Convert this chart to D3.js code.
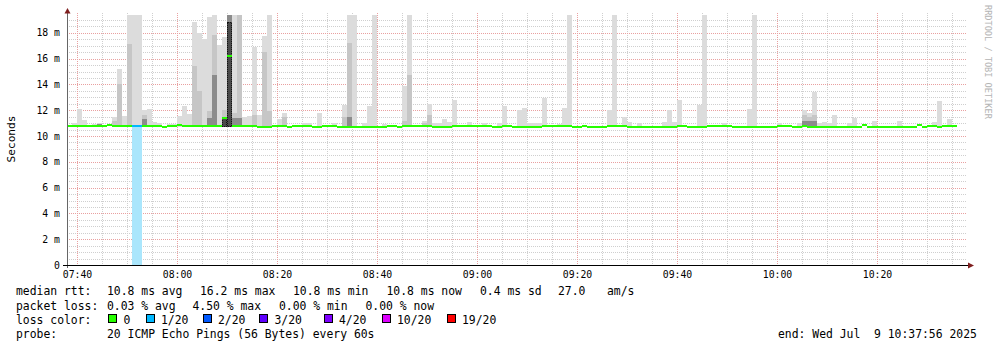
<!DOCTYPE html>
<html>
<head>
<meta charset="utf-8">
<script src="https://cdn.jsdelivr.net/npm/d3@7"></script>
<style>
  body { margin: 0; background: #fff; }
  text { font-family: "DejaVu Sans Mono", monospace; }
</style>
</head>
<body>
<div id="chart"></div>
<script>
// one bar per minute, first bar starts 07:38
var median = [
  10.8,10.8,10.8,10.8,10.8,10.8,10.8,10.8,10.88,10.8,
  10.8,10.8,10.8,10.8,10.8,10.8,10.8,10.8,10.8,10.72,
  10.8,10.8,10.88,10.8,10.8,10.8,10.8,10.8,10.8,10.8,
  10.8,11.4,16.2,10.8,10.8,10.8,10.8,10.8,10.72,10.72,
  10.72,10.8,10.8,10.8,10.72,10.8,10.8,10.8,10.8,10.72,
  10.72,10.8,10.8,10.8,10.72,10.72,10.72,10.72,10.72,10.72,
  10.72,10.72,10.72,10.72,10.8,10.8,10.72,10.8,10.8,10.8,
  10.8,10.8,10.8,10.72,10.72,10.72,10.72,10.8,10.8,10.8,
  10.8,10.8,10.8,10.8,10.8,10.72,10.72,10.8,10.8,10.72,
  10.72,10.72,10.72,10.72,10.72,10.8,10.8,10.8,10.8,10.8,
  10.8,10.72,10.72,10.8,10.72,10.72,10.72,10.72,10.8,10.8,
  10.8,10.8,10.72,10.72,10.72,10.72,10.72,10.72,10.72,10.72,
  10.72,10.72,10.8,10.8,10.72,10.72,10.72,10.72,10.8,10.8,
  10.8,10.8,10.8,10.72,10.72,10.72,10.72,10.72,10.72,10.72,
  10.72,10.72,10.8,10.8,10.8,10.72,10.72,10.8,10.72,10.72,
  10.72,10.72,10.72,10.72,10.72,10.72,10.72,10.72,10.72,10.85,
  10.72,10.72,10.72,10.72,10.72,10.72,10.72,10.72,10.72,10.72,
  10.85,10.72,10.8,10.8,10.72,10.8,10.8,10.8
];

// lost pings (of 20) per minute, [minute, lost]
var loss = [[13, 1], [14, 1]];

// smoke: lowest ping and the tops of the smoke bands, [minute, ms]
var smokeLow = 10.7;
var smokeHi = [
  [1,11.0],[2,12.1],[3,11.25],[5,10.95],[6,11.0],[9,11.45],[10,15.2],[11,11.55],[12,20],[13,20],
  [14,20],[15,12.0],[16,12.1],[17,11.1],[18,11.0],[20,10.95],[21,10.95],[22,11.55],[23,12.35],[24,11.7],
  [25,18.8],[26,18.0],[27,17.55],[28,19.25],[29,20],[30,17.05],[31,17.7],[32,20],[33,20],[34,20],
  [35,11.45],[36,11.55],[37,16.9],[38,11.6],[39,17.75],[40,20],[42,11.3],[43,11.75],
  [47,11.0],[48,11.0],[50,11.75],[53,11.0],[55,12.4],[56,20],[57,20],[59,11.0],[60,12.35],[61,20],
  [63,10.95],[67,13.85],[68,20],[71,11.2],[72,12.5],[73,11.0],[74,11.0],[75,11.3],[76,11.1],[77,12.8],
  [80,11.1],[83,11.0],[86,11.0],[87,12.35],
  [90,12.0],[91,12.15],[92,10.98],[93,10.98],[94,11.0],[95,12.95],[98,10.95],[99,12.2],[100,20],
  [108,12.0],[109,20],[111,11.45],[112,11.1],[114,11.0],[119,11.1],[120,12.0],[121,11.1],[122,12.8],
  [126,12.4],[127,20],[131,10.98],
  [136,12.1],[137,20],[142,10.98],[146,11.0],[147,12.0],[148,11.75],[149,13.4],[150,11.0],[151,11.1],
  [152,11.0],[153,11.65],[156,10.98],[157,11.4],[161,11.15],[166,11.15],[173,11.1],[174,12.75],[176,11.3]
];
var smokeMid = [
  [9,11.2],[10,14.0],[12,17.1],[15,11.6],[25,15.4],[26,13.5],[28,11.9],[29,17.8],[31,12.0],[32,20],
  [33,11.8],[34,20],[37,11.6],[39,16.5],[40,11.9],[43,11.45],[55,11.5],[56,17.2],[67,11.2],[68,14.7],
  [71,11.0],[72,11.6],[147,11.6],[148,11.5],[149,11.6]
];
var smokeDark = [
  [6,10.95],[15,11.3],[28,11.4],[29,14.7],[31,11.45],[32,19.6],[33,11.4],[34,11.4],[56,11.5],
  [147,11.2],[148,11.2],[149,11.2]
];
var smokeCore = [[31,11.45],[32,18.8]];

var yTicks = [0, 2, 4, 6, 8, 10, 12, 14, 16, 18];
var lossLegend = [
  ["0", "#26ff00"], ["1/20", "#00b8ff"], ["2/20", "#0059ff"], ["3/20", "#5e00ff"],
  ["4/20", "#7e00ff"], ["10/20", "#dd00ff"], ["19/20", "#ff0000"]
];
var lossColor = {0: "#26ff00", 1: "#00b8ff"};

var start = new Date(2025, 6, 9, 7, 38);
var end = new Date(2025, 6, 9, 10, 38);

var svg = d3.select("#chart").append("svg")
    .attr("width", 997)
    .attr("height", 347)
    .style("display", "block");

svg.append("rect").attr("width", 997).attr("height", 347).attr("fill", "#fff");

var x = d3.scaleTime().domain([start, end]).range([67, 967]);
var y = d3.scaleLinear().domain([0, 19.38]).range([265, 15]);

function t(i) { return d3.timeMinute.offset(start, i); }
function py(v) { return Math.round(y(v)) + 0.5; }

// grid
var grid = svg.append("g").attr("shape-rendering", "crispEdges");
var minorY = d3.range(0.5, 19.4, 0.5).filter(function(v){ return v % 2 !== 0; });
grid.selectAll("line.hmin").data(minorY).enter().append("line")
    .attr("x1", 67).attr("x2", 967)
    .attr("y1", py).attr("y2", py)
    .attr("stroke", "#cfcfcf").attr("stroke-dasharray", "1,1");
var minorX = x.ticks(d3.timeMinute.every(5)).filter(function(d){ return d.getMinutes() % 20 !== 0; });
grid.selectAll("line.vmin").data(minorX).enter().append("line")
    .attr("x1", function(d){ return Math.round(x(d)) + 0.5; })
    .attr("x2", function(d){ return Math.round(x(d)) + 0.5; })
    .attr("y1", 13).attr("y2", 265)
    .attr("stroke", "#cfcfcf").attr("stroke-dasharray", "1,1");
grid.selectAll("line.hmaj").data(yTicks.slice(1)).enter().append("line")
    .attr("x1", 67).attr("x2", 967)
    .attr("y1", py).attr("y2", py)
    .attr("stroke", "#e9a0a0").attr("stroke-dasharray", "1,1");
grid.selectAll("line.vmaj").data(x.ticks(d3.timeMinute.every(20))).enter().append("line")
    .attr("x1", function(d){ return Math.round(x(d)) + 0.5; })
    .attr("x2", function(d){ return Math.round(x(d)) + 0.5; })
    .attr("y1", 13).attr("y2", 265)
    .attr("stroke", "#e9a0a0").attr("stroke-dasharray", "1,1");

// smoke
var plot = svg.append("g").attr("shape-rendering", "crispEdges");
function smoke(list, color) {
  plot.append("g").selectAll("rect").data(list).enter().append("rect")
      .attr("x", function(d){ return x(t(d[0])); })
      .attr("width", function(d){ return x(t(d[0] + 1)) - x(t(d[0])); })
      .attr("y", function(d){ return Math.max(15, y(d[1])); })
      .attr("height", function(d){ return y(smokeLow) - Math.max(15, y(d[1])); })
      .attr("fill", color);
}
smoke(smokeHi, "#dcdcdc");
smoke(smokeMid, "#c6c6c6");
smoke(smokeDark, "#8c8c8c");
smoke(smokeCore, "#4a4a4a");
plot.append("g").selectAll("rect").data(smokeCore).enter().append("rect")
    .attr("x", function(d){ return x(t(d[0])) + 0.5; })
    .attr("width", function(d){ return x(t(d[0] + 1)) - x(t(d[0])) - 1; })
    .attr("y", function(d){ return y(d[1]) + 0.5; })
    .attr("height", function(d){ return y(smokeLow) - y(d[1]) - 1; })
    .attr("fill", "none").attr("stroke", "#111").attr("stroke-dasharray", "1,1");

// loss columns
plot.append("g").selectAll("rect").data(loss).enter().append("rect")
    .attr("x", function(d){ return x(t(d[0])); })
    .attr("width", function(d){ return x(t(d[0] + 1)) - x(t(d[0])); })
    .attr("y", function(d){ return y(median[d[0]]); })
    .attr("height", function(d){ return y(0) - y(median[d[0]]); })
    .attr("fill", "#aae6fc");

// median line
var lossAt = {};
loss.forEach(function(d){ lossAt[d[0]] = d[1]; });
plot.append("g").selectAll("rect").data(median).enter().append("rect")
    .attr("x", function(d, i){ return x(t(i)); })
    .attr("width", function(d, i){ return x(t(i + 1)) - x(t(i)); })
    .attr("y", function(d){ return Math.round(y(d)) - 1; })
    .attr("height", 2)
    .attr("fill", function(d, i){ return lossColor[lossAt[i] || 0]; });

// axes
var yAxis = svg.append("g")
    .attr("transform", "translate(67,0)")
    .call(d3.axisLeft(y).tickValues(yTicks)
      .tickFormat(function(d){ return d === 0 ? "0" : d + " m"; })
      .tickSize(0).tickPadding(7));
yAxis.select(".domain").remove();
yAxis.selectAll("text").attr("font-size", "9.8px").attr("fill", "#000")
    .style("font-family", "'DejaVu Sans Mono', monospace");

var xAxis = svg.append("g")
    .attr("transform", "translate(0,265)")
    .call(d3.axisBottom(x).ticks(d3.timeMinute.every(20))
      .tickFormat(d3.timeFormat("%H:%M"))
      .tickSize(0).tickPadding(6));
xAxis.select(".domain").remove();
xAxis.selectAll("text").attr("font-size", "9.8px").attr("fill", "#000")
    .style("font-family", "'DejaVu Sans Mono', monospace");

svg.append("line").attr("x1", 67.5).attr("x2", 67.5).attr("y1", 268).attr("y2", 12)
    .attr("stroke", "#666").attr("shape-rendering", "crispEdges");
svg.append("line").attr("x1", 63).attr("x2", 969).attr("y1", 265.5).attr("y2", 265.5)
    .attr("stroke", "#000").attr("shape-rendering", "crispEdges");
svg.append("path").attr("d", "M64.5,13.5L67.5,8L70.5,13.5Z").attr("fill", "#7f1f1f");
svg.append("path").attr("d", "M968,262.5L974,265.5L968,268.5Z").attr("fill", "#7f1f1f");

// titles
svg.append("text")
    .attr("transform", "translate(15,139) rotate(-90)")
    .attr("text-anchor", "middle")
    .attr("font-size", "11.2px")
    .text("Seconds");

svg.append("text")
    .attr("transform", "translate(984.5,5) rotate(90)")
    .attr("font-size", "8.6px")
    .attr("fill", "#b4b4b4")
    .text("RRDTOOL / TOBI OETIKER");

// legend
var legend = svg.append("g").attr("font-size", "11.4px").attr("fill", "#000")
    .style("white-space", "pre");
var rows = [
  [295, [[16, "median rtt:"], [107, "10.8 ms avg"], [200, "16.2 ms max"], [293, "10.8 ms min"],
         [386.5, "10.8 ms now"], [480, "0.4 ms sd"], [558, "27.0"], [607, "am/s"]]],
  [309.5, [[16, "packet loss:"], [107, "0.03 % avg"], [192.5, "4.50 % max"], [279, "0.00 % min"],
           [365.5, "0.00 % now"]]],
  [323.5, [[16, "loss color:"]]],
  [337.5, [[16, "probe:"], [107, "20 ICMP Echo Pings (56 Bytes) every 60s"],
           [778, "end: Wed Jul  9 10:37:56 2025"]]]
];
rows.forEach(function(r){
  legend.selectAll(null).data(r[1]).enter().append("text")
      .attr("x", function(d){ return d[0]; })
      .attr("y", r[0])
      .attr("xml:space", "preserve")
      .text(function(d){ return d[1]; });
});
var swX = [108.5, 146, 203, 259.5, 324, 382, 447];
legend.selectAll("rect.sw").data(lossLegend).enter().append("rect")
    .attr("x", function(d, i){ return swX[i]; })
    .attr("y", 314.5).attr("width", 8).attr("height", 8)
    .attr("fill", function(d){ return d[1]; })
    .attr("stroke", "#000").attr("shape-rendering", "crispEdges");
legend.selectAll("text.sw").data(lossLegend).enter().append("text")
    .attr("x", function(d, i){ return swX[i] + 15; })
    .attr("y", 323.5)
    .text(function(d){ return d[0]; });
</script>
</body>
</html>
